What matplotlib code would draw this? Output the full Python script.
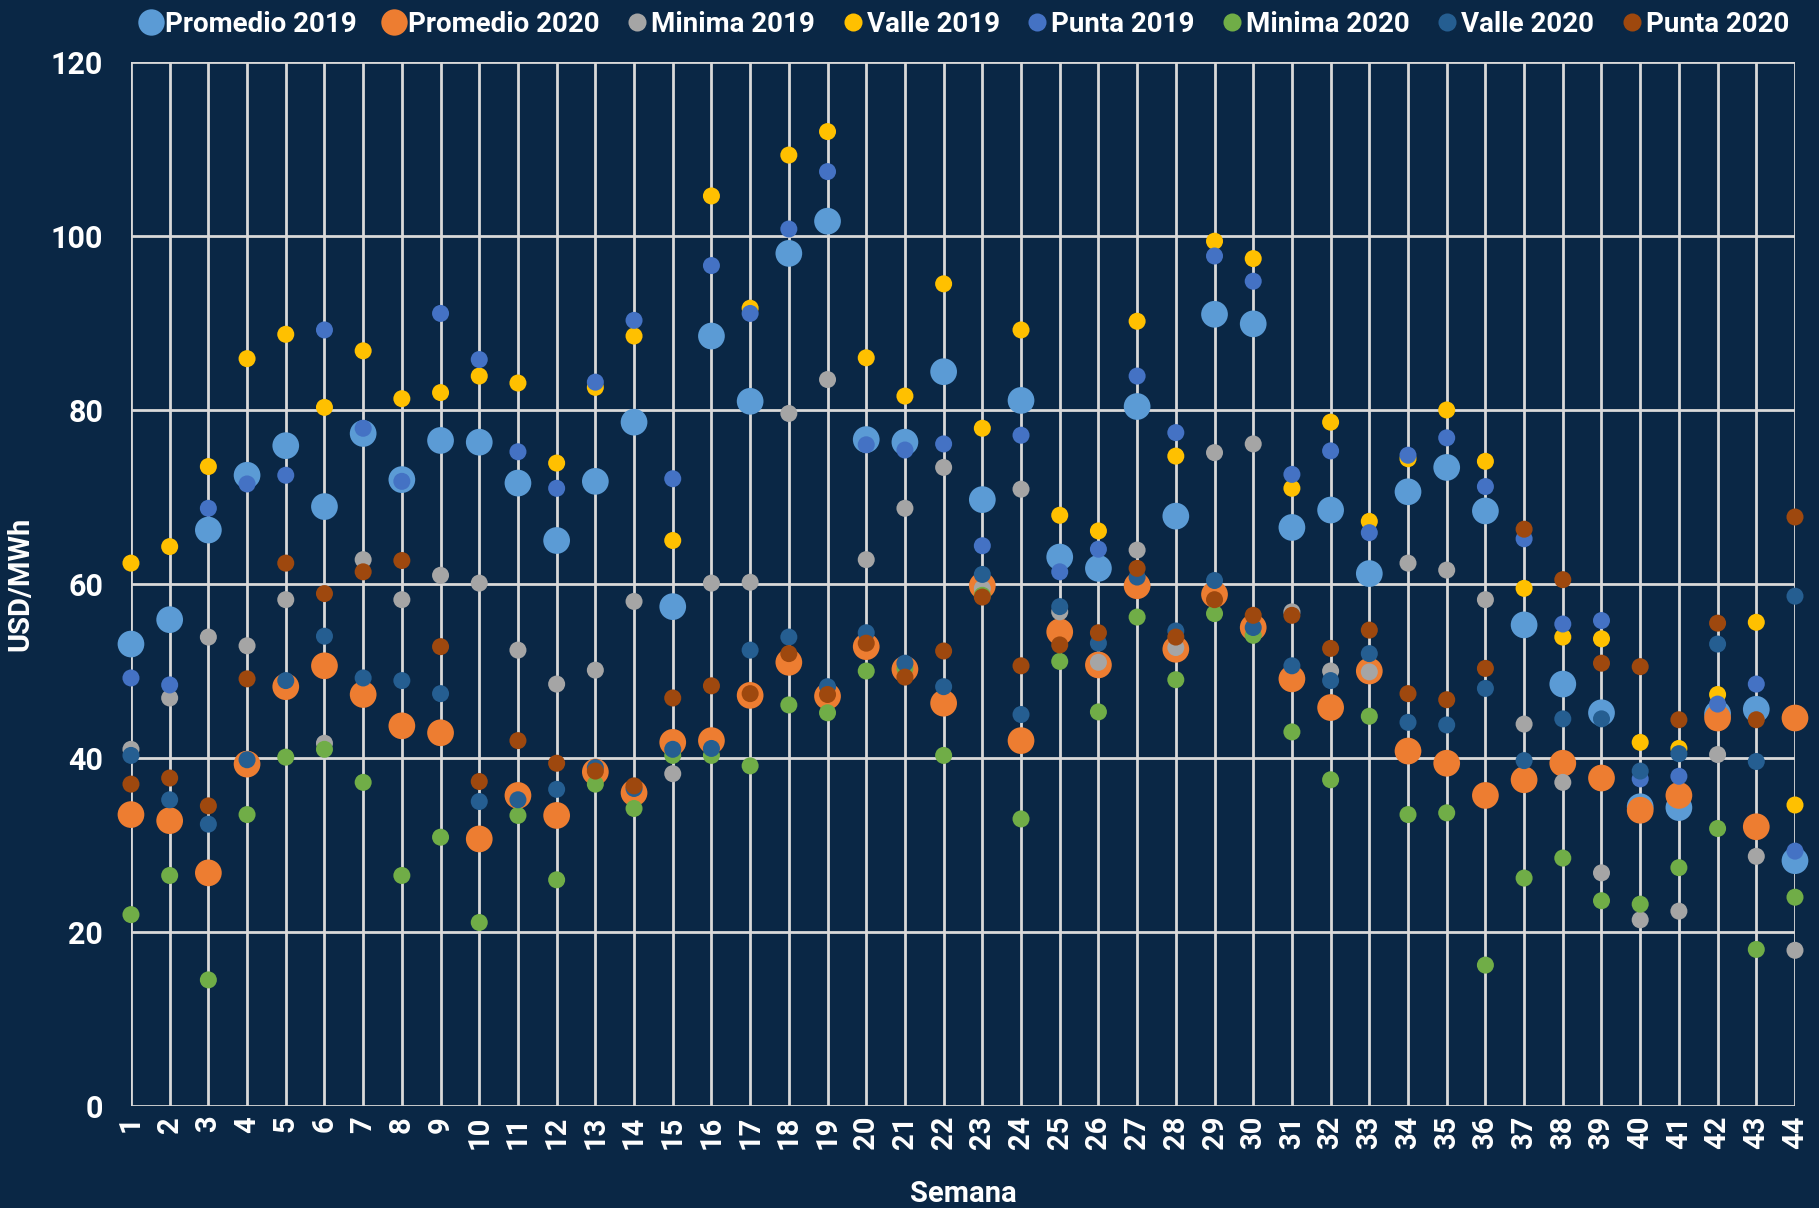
import matplotlib
matplotlib.use("Agg")
import matplotlib.pyplot as plt
from matplotlib.lines import Line2D

weeks = list(range(1, 45))

promedio_2019 = [53.1, 55.9, 66.2, 72.5, 75.9, 68.9, 77.3, 72.0, 76.5, 76.3, 71.6, 65.0, 71.8, 78.6, 57.4,
                 88.5, 81.0, 98.0, 101.7, 76.6, 76.3, 84.4, 69.7, 81.1, 63.1, 61.8, 80.4, 67.8, 91.0, 89.9,
                 66.5, 68.5, 61.2, 70.6, 73.4, 68.4, 55.3, 48.5, 45.2, 34.4, 34.3, 45.1, 45.6, 28.2]
promedio_2020 = [33.5, 32.8, 26.8, 39.3, 48.2, 50.6, 47.3, 43.7, 42.9, 30.7, 35.7, 33.4, 38.4, 36.0, 41.8,
                 42.0, 47.2, 51.0, 47.1, 52.8, 50.2, 46.3, 59.8, 42.0, 54.5, 50.7, 59.8, 52.5, 58.8, 55.0,
                 49.1, 45.8, 50.0, 40.8, 39.4, 35.7, 37.5, 39.4, 37.7, 34.0, 35.7, 44.6, 32.1, 44.6]
minima_2019 = [41.0, 46.9, 53.9, 52.9, 58.2, 41.7, 62.8, 58.2, 61.0, 60.1, 52.4, 48.5, 50.1, 58.0, 38.2,
               60.1, 60.2, 79.6, 83.5, 62.8, 68.7, 73.4, 59.5, 70.9, 56.8, 51.0, 63.9, 52.7, 75.1, 76.1,
               56.8, 50.0, 49.9, 62.4, 61.6, 58.2, 43.9, 37.2, 26.8, 21.4, 22.4, 40.4, 28.7, 17.9]
valle_2019 = [62.4, 64.3, 73.5, 85.9, 88.7, 80.3, 86.8, 81.3, 82.0, 83.9, 83.1, 73.9, 82.6, 88.5, 65.0,
              104.6, 91.7, 109.3, 112.0, 86.0, 81.6, 94.5, 77.9, 89.2, 67.9, 66.1, 90.2, 74.7, 99.4, 97.4,
              71.0, 78.6, 67.2, 74.4, 80.0, 74.1, 59.5, 53.9, 53.7, 41.8, 41.1, 47.3, 55.6, 34.6]
punta_2019 = [49.2, 48.4, 68.7, 71.5, 72.5, 89.2, 77.9, 71.8, 91.1, 85.8, 75.2, 71.0, 83.2, 90.3, 72.1,
              96.6, 91.1, 100.8, 107.4, 76.0, 75.4, 76.1, 64.4, 77.1, 61.4, 64.0, 83.9, 77.4, 97.7, 94.8,
              72.6, 75.3, 65.9, 74.8, 76.8, 71.2, 65.2, 55.4, 55.8, 37.6, 37.9, 46.2, 48.5, 29.3]
minima_2020 = [22.0, 26.5, 14.5, 33.5, 40.1, 41.0, 37.2, 26.5, 30.9, 21.1, 33.4, 26.0, 37.0, 34.2, 40.3,
               40.3, 39.1, 46.1, 45.2, 50.0, 50.3, 40.3, 58.7, 33.0, 51.1, 45.3, 56.2, 49.0, 56.6, 54.1,
               43.0, 37.5, 44.8, 33.5, 33.7, 16.2, 26.2, 28.5, 23.6, 23.2, 27.4, 31.9, 18.0, 24.0]
valle_2020 = [40.3, 35.2, 32.4, 39.8, 48.9, 54.0, 49.2, 48.9, 47.4, 35.0, 35.2, 36.4, 38.9, 36.5, 41.0,
              41.1, 52.4, 53.9, 48.2, 54.4, 50.9, 48.2, 61.1, 45.0, 57.4, 53.2, 60.8, 54.6, 60.4, 55.0,
              50.6, 48.9, 52.0, 44.1, 43.8, 48.0, 39.7, 44.5, 44.5, 38.5, 40.5, 53.1, 39.6, 58.6]
punta_2020 = [37.0, 37.7, 34.5, 49.1, 62.4, 58.9, 61.4, 62.7, 52.8, 37.3, 42.0, 39.4, 38.5, 36.8, 46.9,
              48.3, 47.4, 52.0, 47.3, 53.2, 49.3, 52.3, 58.5, 50.6, 53.0, 54.4, 61.8, 53.9, 58.2, 56.4,
              56.4, 52.6, 54.7, 47.4, 46.7, 50.3, 66.3, 60.5, 50.9, 50.5, 44.4, 55.5, 44.4, 67.7]

series_labels = ["Promedio 2019", "Promedio 2020", "Minima 2019", "Valle 2019",
                 "Punta 2019", "Minima 2020", "Valle 2020", "Punta 2020"]
series_values = [promedio_2019, promedio_2020, minima_2019, valle_2019,
                 punta_2019, minima_2020, valle_2020, punta_2020]
colors = ["#5B9BD5", "#ED7D31", "#A5A5A5", "#FFC000",
          "#4472C4", "#70AD47", "#255E91", "#9E480E"]
sizes = [370, 370, 150, 150, 150, 150, 150, 150]

bg = "#0A2745"
plt.rcParams['font.family'] = ['Roboto', 'DejaVu Sans']

fig = plt.figure(figsize=(18.19, 12.08), dpi=100, facecolor=bg)
ax = fig.add_axes([0.0720, 0.0844, 0.9148, 0.8643])
ax.set_facecolor(bg)

for i, (lab, vals, c, s) in enumerate(zip(series_labels, series_values, colors, sizes)):
    ax.scatter(weeks, vals, s=s, color=c, edgecolors='none', clip_on=False, zorder=3 + i, label=lab)

ax.set_xlim(1, 44)
ax.set_ylim(0, 120)
ax.set_xticks(weeks)
ax.set_xticklabels([str(w) for w in weeks], rotation=90, fontsize=21, fontweight='bold', color='white')
ax.set_yticks(range(0, 121, 20))
ax.set_yticklabels([str(v) for v in range(0, 121, 20)], fontsize=22, fontweight='bold', color='white')
ax.tick_params(axis='both', length=0)
ax.tick_params(axis='y', pad=20)
ax.tick_params(axis='x', pad=7)
ax.grid(True, color='#D9D9D9', linewidth=2, zorder=1)
ax.set_axisbelow(True)
for sp in ax.spines.values():
    sp.set_visible(False)

ax.set_ylabel("USD/MWh", fontsize=21, fontweight='bold', color='white', labelpad=12)
ax.set_xlabel("Semana", fontsize=21, fontweight='bold', color='white', labelpad=22)

handles = [Line2D([0], [0], marker='o', linestyle='none', markerfacecolor=c, markeredgecolor='none',
                  markersize=(19 if s > 200 else 13)) for c, s in zip(colors, sizes)]
leg = fig.legend(handles, series_labels, loc='upper center', bbox_to_anchor=(0.5295, 1.012), ncol=8,
                 frameon=False, handletextpad=0.0, columnspacing=0.85, handlelength=1.0,
                 prop={'size': 20, 'weight': 'bold'})
for t in leg.get_texts():
    t.set_color('white')

fig.savefig("out.png", dpi=100, facecolor=bg)
